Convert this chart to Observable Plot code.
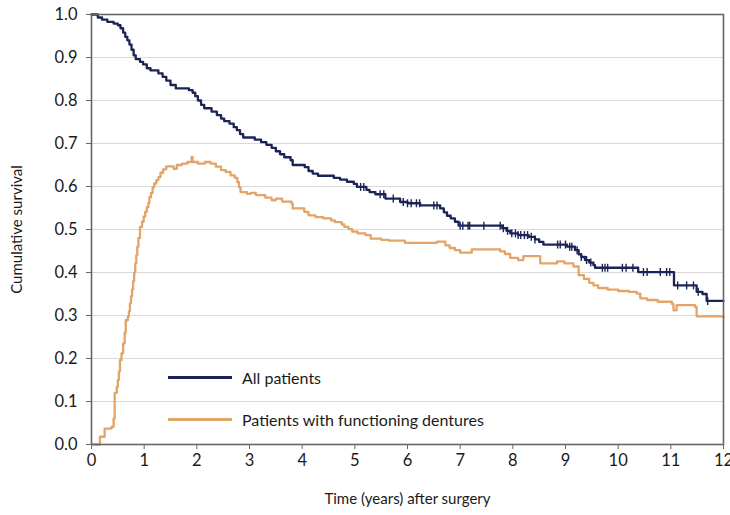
<!DOCTYPE html>
<html>
<head>
<meta charset="utf-8">
<script src="https://cdn.jsdelivr.net/npm/d3@7"></script>
<script src="https://cdn.jsdelivr.net/npm/@observablehq/plot@0.6"></script>
<style>
  html, body { margin: 0; padding: 0; background: #fff; }
  #wrap { position: relative; width: 730px; height: 515px; font-family: Lato, "Open Sans", sans-serif; }
  .leg { position: absolute; display: flex; align-items: center; font-size: 16px; color: #1a1a1a; }
  .sw { width: 64px; height: 0; border-top: 3px solid; margin-right: 10px; }
  #wrap svg g[aria-label="x-axis tick label"], #wrap svg g[aria-label="y-axis tick label"] { font-size: 16.5px; }
  #wrap svg g[aria-label="x-axis label"], #wrap svg g[aria-label="y-axis label"] { font-size: 15px; }
</style>
</head>
<body>
<div id="wrap"></div>
<script>
// ---- data ----
const seriesNames = ["All patients", "Patients with functioning dentures"];
const seriesColors = ["#1c2457", "#e3a468"];

const allTimes = [0,0.12,0.2,0.3,0.42,0.5,0.55,0.6,0.64,0.68,0.72,0.76,0.8,0.84,0.92,0.98,1.05,1.12,1.27,1.35,1.42,1.5,1.6,1.85,1.92,1.97,2.02,2.08,2.14,2.28,2.38,2.46,2.52,2.62,2.7,2.76,2.82,2.88,3.1,3.22,3.32,3.42,3.5,3.58,3.66,3.78,3.82,4.05,4.12,4.2,4.3,4.6,4.72,4.85,4.98,5.04,5.22,5.28,5.39,5.58,5.86,6.0,6.24,6.62,6.69,6.75,6.82,6.9,6.97,7.8,7.88,7.95,8.1,8.3,8.42,8.5,8.58,9.03,9.18,9.25,9.3,9.37,9.45,9.53,9.56,10.38,11.06,11.49,11.6,11.68,12];
const allSurv  = [1.0,0.993,0.988,0.983,0.979,0.975,0.968,0.958,0.948,0.94,0.93,0.918,0.905,0.896,0.89,0.884,0.875,0.87,0.863,0.855,0.846,0.836,0.828,0.824,0.818,0.81,0.8,0.79,0.782,0.774,0.766,0.758,0.752,0.746,0.738,0.731,0.722,0.714,0.709,0.703,0.697,0.69,0.682,0.675,0.668,0.661,0.65,0.645,0.636,0.63,0.625,0.62,0.616,0.611,0.606,0.599,0.592,0.587,0.582,0.572,0.564,0.561,0.556,0.549,0.54,0.532,0.526,0.518,0.509,0.503,0.497,0.491,0.487,0.483,0.477,0.471,0.465,0.46,0.452,0.442,0.436,0.429,0.423,0.417,0.411,0.401,0.37,0.355,0.35,0.334,0.334];
const allCensored = [5.11,5.17,5.48,5.55,5.73,5.92,6.0,6.07,6.17,6.23,6.5,6.56,7.0,7.05,7.15,7.18,7.45,7.76,7.82,7.9,7.98,8.05,8.1,8.15,8.22,8.28,8.35,8.42,8.85,8.9,9.0,9.08,9.12,9.22,9.3,9.4,9.48,9.7,9.75,9.8,10.08,10.15,10.28,10.48,10.55,10.8,10.92,10.98,11.13,11.3,11.43,11.52,11.7];

const dentTimes = [0,0.16,0.25,0.38,0.42,0.44,0.48,0.5,0.52,0.54,0.57,0.6,0.63,0.65,0.69,0.71,0.73,0.75,0.77,0.79,0.81,0.83,0.85,0.87,0.89,0.92,0.96,0.99,1.02,1.05,1.08,1.1,1.13,1.16,1.19,1.23,1.27,1.31,1.36,1.42,1.56,1.62,1.72,1.82,1.9,1.92,2.02,2.15,2.26,2.36,2.46,2.55,2.64,2.72,2.77,2.8,2.83,2.95,3.02,3.12,3.3,3.42,3.5,3.62,3.8,3.82,4.04,4.12,4.25,4.4,4.55,4.62,4.75,4.8,4.88,4.95,5.05,5.2,5.3,5.5,5.65,5.95,6.56,6.72,6.8,6.9,7.0,7.22,7.76,7.85,7.95,8.1,8.2,8.52,8.84,8.98,9.15,9.25,9.35,9.45,9.53,9.62,9.8,10.0,10.2,10.35,10.42,10.55,10.75,11.02,11.05,11.11,11.46,11.49,12];
const dentSurv  = [0.0,0.018,0.037,0.041,0.06,0.12,0.134,0.15,0.17,0.196,0.212,0.235,0.26,0.289,0.297,0.31,0.328,0.345,0.36,0.38,0.4,0.421,0.44,0.46,0.48,0.506,0.518,0.53,0.541,0.552,0.562,0.575,0.585,0.598,0.607,0.615,0.622,0.632,0.64,0.647,0.641,0.65,0.653,0.657,0.668,0.657,0.653,0.657,0.653,0.646,0.638,0.634,0.626,0.62,0.61,0.598,0.587,0.583,0.585,0.58,0.574,0.568,0.572,0.565,0.56,0.549,0.541,0.533,0.529,0.526,0.521,0.517,0.512,0.506,0.501,0.495,0.491,0.487,0.479,0.476,0.474,0.469,0.472,0.463,0.457,0.452,0.446,0.454,0.449,0.443,0.434,0.429,0.438,0.421,0.426,0.421,0.414,0.394,0.385,0.376,0.37,0.364,0.36,0.357,0.355,0.351,0.34,0.336,0.332,0.327,0.312,0.324,0.32,0.298,0.296];

const xTicks = [0,1,2,3,4,5,6,7,8,9,10,11,12];
const yTicks = [0,0.1,0.2,0.3,0.4,0.5,0.6,0.7,0.8,0.9,1.0];
const xLabel = "Time (years) after surgery";
const yLabel = "Cumulative survival";

// ---- build ----
const allRows = allTimes.map((t, i) => ({t, s: allSurv[i], series: seriesNames[0]}));
const dentRows = dentTimes.map((t, i) => ({t, s: dentSurv[i], series: seriesNames[1]}));
const stepAt = (t) => allSurv[Math.max(0, d3.bisectRight(allTimes, t) - 1)];
const censorRows = allCensored.map(t => ({t, s: stepAt(t)}));

const vtick = {draw(ctx, size) { const h = Math.sqrt(size / Math.PI); ctx.moveTo(0, -h); ctx.lineTo(0, h); }};

const font = "Lato, 'Open Sans', sans-serif";

const chart = Plot.plot({
  width: 730,
  height: 515,
  marginLeft: 91,
  marginRight: 7,
  marginTop: 14,
  marginBottom: 71,
  style: {fontFamily: font, fontSize: "15px", color: "#1a1a1a", background: "#fff", overflow: "visible"},
  x: {domain: [0, 12]},
  y: {domain: [0, 1]},
  marks: [
    Plot.ruleY(yTicks.slice(1, -1), {stroke: "#d9d9d9", strokeWidth: 1.2}),
    Plot.axisX({ticks: xTicks, tickSize: 5, tickPadding: 5, tickFormat: d3.format("d"), stroke: "#666", fill: "#1a1a1a",
      label: xLabel, labelAnchor: "center", labelOffset: 59, labelArrow: false}),
    Plot.axisY({ticks: yTicks, tickSize: 5, tickPadding: 9, tickFormat: d3.format(".1f"), stroke: "#666", fill: "#1a1a1a",
      label: yLabel, labelAnchor: "center", labelOffset: 80, labelArrow: false}),
    Plot.line(dentRows, {x: "t", y: "s", curve: "step-after", stroke: seriesColors[1], strokeWidth: 2.3}),
    Plot.line(allRows, {x: "t", y: "s", curve: "step-after", stroke: seriesColors[0], strokeWidth: 2.3}),
    Plot.dot(censorRows, {x: "t", y: "s", symbol: vtick, r: 4, stroke: seriesColors[0], strokeWidth: 1.4, fill: "none"}),
    Plot.frame({stroke: "#666", strokeWidth: 1.6})
  ]
});

const wrap = document.getElementById("wrap");
wrap.appendChild(chart);

// legend (inside plot area)
const legendPos = [{left: 168, top: 368}, {left: 168, top: 410}];
seriesNames.forEach((name, i) => {
  const d = document.createElement("div");
  d.className = "leg";
  d.style.left = legendPos[i].left + "px";
  d.style.top = legendPos[i].top + "px";
  const sw = document.createElement("span");
  sw.className = "sw";
  sw.style.borderTopColor = seriesColors[i];
  const tx = document.createElement("span");
  tx.textContent = name;
  d.appendChild(sw); d.appendChild(tx);
  wrap.appendChild(d);
});
</script>
</body>
</html>
